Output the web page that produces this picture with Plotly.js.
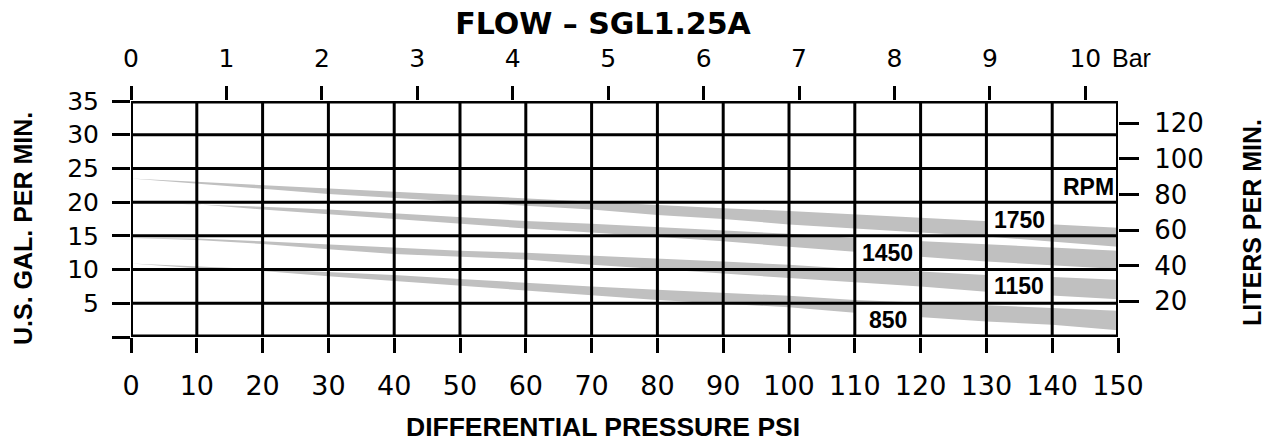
<!DOCTYPE html>
<html>
<head>
<meta charset="utf-8">
<script src="https://cdn.plot.ly/plotly-3.0.1.min.js"></script>
<style>
html, body { margin: 0; padding: 0; background: #ffffff; }
#chart { width: 1274px; height: 443px; }
</style>
</head>
<body>
<div id="chart"></div>
<script>
// ---------------- data ----------------
const psi = [0, 10, 20, 30, 40, 50, 60, 70, 80, 90, 100, 110, 120, 130, 140, 150];

// flow bands (U.S. GPM), upper and lower edge of each shaded band
const rpm1750Top    = [23.5, 23.0, 22.6, 22.1, 21.6, 21.1, 20.6, 20.1, 19.6, 19.1, 18.7, 18.2, 17.7, 17.2, 16.7, 16.2];
const rpm1750Bottom = [23.5, 22.8, 22.0, 21.2, 20.6, 20.1, 19.5, 18.9, 18.1, 17.5, 16.7, 16.1, 15.5, 14.9, 14.2, 13.4];
const rpm1450Top    = [20.0, 19.7, 19.3, 18.9, 18.3, 17.8, 17.2, 16.8, 16.3, 15.9, 15.3, 14.7, 14.2, 13.7, 13.2, 12.8];
const rpm1450Bottom = [20.0, 19.7, 18.9, 18.1, 17.5, 16.8, 16.1, 15.5, 14.9, 14.2, 13.4, 12.6, 11.9, 11.2, 10.6, 10.1];
const rpm1150Top    = [14.7, 14.6, 14.2, 13.7, 13.2, 12.8, 12.5, 12.1, 11.6, 11.2, 10.7, 10.1, 9.7, 9.2, 8.9, 8.5];
const rpm1150Bottom = [14.7, 14.4, 13.8, 13.0, 12.3, 11.9, 11.5, 10.7, 10.1, 9.4, 8.7, 8.1, 7.5, 6.7, 6.2, 5.6];
const rpm850Top     = [10.9, 10.5, 10.1, 9.6, 9.2, 8.6, 8.0, 7.5, 7.0, 6.6, 6.1, 5.5, 5.1, 4.6, 4.3, 3.9];
const rpm850Bottom  = [10.9, 10.2, 9.8, 9.0, 8.2, 7.6, 6.9, 6.2, 5.5, 4.9, 4.4, 3.6, 2.9, 2.3, 1.8, 1.0];

// band labels
const labelText = ['RPM', '1750', '1450', '1150', '850'];
const labelPsi  = [145.5, 135, 115, 135, 115];
const labelGpm  = [22.2, 17.3, 12.5, 7.5, 2.5];

// axis ticks
const psiTicks = [0, 10, 20, 30, 40, 50, 60, 70, 80, 90, 100, 110, 120, 130, 140, 150];
const barTicks = [0, 1, 2, 3, 4, 5, 6, 7, 8, 9, 10];
const gpmTicks = [0, 5, 10, 15, 20, 25, 30, 35];
const gpmTickText = ['', '5', '10', '15', '20', '25', '30', '35'];
const lpmTicks = [20, 40, 60, 80, 100, 120];

// ---------------- constants ----------------
const FONT = '"Liberation Sans", Arial, Helvetica, sans-serif';
const WIDE = '"DejaVu Sans", "Liberation Sans", Arial, sans-serif';
const BAND = '#c0c0c0';
const PSI_PER_BAR = 14.5038;
const LPM_PER_GPM = 3.78541;
const PSI_MAX = psiTicks[psiTicks.length - 1];
const GPM_MAX = gpmTicks[gpmTicks.length - 1];
const GRID_STEP_X = 10, GRID_STEP_Y = 5;

// ---------------- traces ----------------
const bands = [
  [rpm1750Top, rpm1750Bottom],
  [rpm1450Top, rpm1450Bottom],
  [rpm1150Top, rpm1150Bottom],
  [rpm850Top, rpm850Bottom]
];
const traces = bands.map(([top, bot]) => ({
  type: 'scatter',
  mode: 'lines',
  x: psi.concat(psi.slice().reverse()),
  y: top.concat(bot.slice().reverse()),
  fill: 'toself',
  fillcolor: BAND,
  line: { width: 0, color: BAND },
  hoverinfo: 'skip',
  showlegend: false
}));

// ---------------- shapes (white label cells, then grid above the bands) ----------------
const shapes = [];
labelPsi.forEach((p, i) => {
  const x0 = Math.floor(p / GRID_STEP_X) * GRID_STEP_X;
  const y0 = Math.floor(labelGpm[i] / GRID_STEP_Y) * GRID_STEP_Y;
  shapes.push({ type: 'rect', xref: 'x', yref: 'y', x0: x0, x1: x0 + GRID_STEP_X, y0: y0, y1: y0 + GRID_STEP_Y,
    fillcolor: '#ffffff', line: { width: 0 }, layer: 'above' });
});
psiTicks.forEach(v => {
  const edge = (v === 0 || v === PSI_MAX);
  shapes.push({ type: 'line', xref: 'x', yref: 'y', x0: v, x1: v, y0: 0, y1: GPM_MAX,
    line: { color: '#000', width: edge ? 4 : 3 }, layer: 'above' });
});
gpmTicks.forEach(v => {
  const edge = (v === 0 || v === GPM_MAX);
  shapes.push({ type: 'line', xref: 'x', yref: 'y', x0: 0, x1: PSI_MAX, y0: v, y1: v,
    line: { color: '#000', width: edge ? 5 : 3 }, layer: 'above' });
});

// ---------------- annotations ----------------
const annotations = labelText.map((t, i) => ({
  text: '<b>' + t + '</b>', xref: 'x', yref: 'y', x: labelPsi[i], y: labelGpm[i],
  showarrow: false, xanchor: 'center', yanchor: 'middle',
  font: { family: FONT, size: 23, color: '#000' }
}));
annotations.push(
  { text: 'Bar', xref: 'paper', yref: 'paper', x: 1.0132, y: 1.182, showarrow: false,
    xanchor: 'center', yanchor: 'middle', font: { family: FONT, size: 25, color: '#000' } },
  { text: '<b>U.S. GAL. PER MIN.</b>', xref: 'paper', yref: 'paper', x: -0.1099, y: 0.4597, textangle: -90,
    showarrow: false, xanchor: 'center', yanchor: 'middle', font: { family: FONT, size: 25, color: '#000' } },
  { text: '<b>LITERS PER MIN.</b>', xref: 'paper', yref: 'paper', x: 1.1363, y: 0.4852, textangle: -90,
    showarrow: false, xanchor: 'center', yanchor: 'middle', font: { family: FONT, size: 25, color: '#000' } },
  { text: '<b>DIFFERENTIAL PRESSURE PSI</b>', xref: 'paper', yref: 'paper', x: 0.4782, y: -0.381,
    showarrow: false, xanchor: 'center', yanchor: 'middle', font: { family: FONT, size: 26.5, color: '#000' } }
);

// ---------------- layout ----------------
const axisCommon = {
  ticks: 'outside', tickwidth: 3, tickcolor: '#000', showgrid: false, zeroline: false,
  showline: false, fixedrange: true
};
const layout = {
  width: 1274, height: 443,
  margin: { l: 131, r: 156, t: 101, b: 106, pad: 0 },
  paper_bgcolor: '#ffffff', plot_bgcolor: '#ffffff',
  font: { family: FONT, color: '#000' },
  showlegend: false,
  title: { text: '<b>FLOW – SGL1.25A</b>', font: { family: WIDE, size: 30, color: '#000' },
           xref: 'container', yref: 'container', x: 0.4733, xanchor: 'center', y: 0.946, yanchor: 'middle' },
  xaxis: Object.assign({}, axisCommon, {
    range: [0, PSI_MAX], tickmode: 'array', tickvals: psiTicks, ticklen: 15, ticklabelstandoff: 10,
    tickfont: { family: WIDE, size: 27, color: '#000' }
  }),
  xaxis2: Object.assign({}, axisCommon, {
    overlaying: 'x', side: 'top', anchor: 'y', range: [0, PSI_MAX / PSI_PER_BAR],
    tickmode: 'array', tickvals: barTicks, ticklen: 14, ticklabelstandoff: 9,
    tickfont: { family: WIDE, size: 25, color: '#000' }
  }),
  yaxis: Object.assign({}, axisCommon, {
    range: [0, GPM_MAX], tickmode: 'array', tickvals: gpmTicks, ticktext: gpmTickText, ticklen: 18,
    ticklabelstandoff: 8, tickfont: { family: WIDE, size: 25, color: '#000' }
  }),
  yaxis2: Object.assign({}, axisCommon, {
    overlaying: 'y', side: 'right', anchor: 'x', range: [0, GPM_MAX * LPM_PER_GPM],
    tickmode: 'array', tickvals: lpmTicks, ticklen: 20, ticklabelstandoff: 10,
    tickfont: { family: WIDE, size: 26, color: '#000' }
  }),
  shapes: shapes,
  annotations: annotations
};

// a hidden trace so the secondary (Bar / LPM) axes get a subplot
traces.push({ type: 'scatter', mode: 'none', x: [0, PSI_MAX / PSI_PER_BAR], y: [0, GPM_MAX * LPM_PER_GPM],
  xaxis: 'x2', yaxis: 'y2', hoverinfo: 'skip', showlegend: false });

Plotly.newPlot('chart', traces, layout, { displayModeBar: false, staticPlot: true });
</script>
</body>
</html>
